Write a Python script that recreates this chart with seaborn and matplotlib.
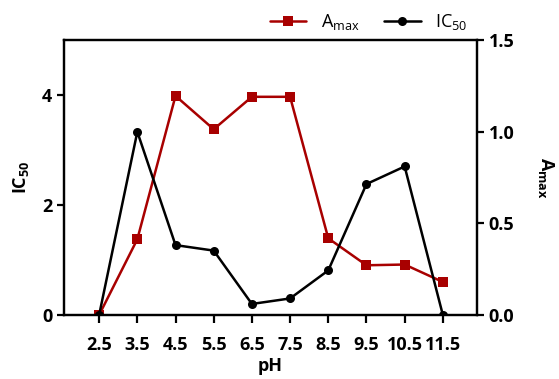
import seaborn as sns
import matplotlib.pyplot as plt

ph = [2.5, 3.5, 4.5, 5.5, 6.5, 7.5, 8.5, 9.5, 10.5, 11.5]
ic50 = [0.0, 3.33, 1.27, 1.17, 0.20, 0.30, 0.81, 2.38, 2.70, 0.0]
amax = [0.0, 0.413, 1.195, 1.013, 1.19, 1.19, 0.418, 0.271, 0.275, 0.18]
ph_labels = ['2.5', '3.5', '4.5', '5.5', '6.5', '7.5', '8.5', '9.5', '10.5', '11.5']

sns.set_style('ticks')
plt.rcParams['font.family'] = ['Open Sans', 'DejaVu Sans']
plt.rcParams['mathtext.fontset'] = 'custom'
plt.rcParams['mathtext.rm'] = 'Open Sans'
plt.rcParams['mathtext.bf'] = 'Open Sans:bold'
plt.rcParams['text.color'] = 'black'
plt.rcParams['axes.labelcolor'] = 'black'

red = '#a80000'
fig = plt.figure(figsize=(5.59, 3.79), dpi=100)
ax = fig.add_axes([0.1145, 0.169, 0.7385, 0.7255])
ax2 = ax.twinx()
ax.set_zorder(ax2.get_zorder() + 1)
ax.patch.set_visible(False)

sns.lineplot(x=ph, y=ic50, ax=ax, color='black', marker='o', markersize=6.5,
             linewidth=1.8, markeredgewidth=0, label=r'IC$_{\mathrm{50}}$', legend=False)
sns.lineplot(x=ph, y=amax, ax=ax2, color=red, marker='s', markersize=6.5,
             linewidth=1.8, markeredgewidth=0, label=r'A$_{\mathrm{max}}$', legend=False)

ax.set_xlim(1.58, 12.39)
ax.set_ylim(0, 5)
ax2.set_ylim(0, 1.5)
ax.set_xticks(ph)
ax.set_xticklabels(ph_labels)
ax.set_yticks([0, 2, 4])
ax2.set_yticks([0, 0.5, 1.0, 1.5])
ax2.set_yticklabels(['0.0', '0.5', '1.0', '1.5'])

for a in (ax, ax2):
    for s in a.spines.values():
        s.set_linewidth(1.6)
        s.set_color('black')
    a.tick_params(width=1.6, length=5, labelsize=13, colors='black')
    for t in a.get_xticklabels() + a.get_yticklabels():
        t.set_fontweight('bold')
ax.tick_params(axis='x', length=6, pad=9)

ax.set_xlabel('pH', fontsize=13, fontweight='bold', labelpad=2)
ax.set_ylabel(r'$\mathbf{IC_{50}}$', fontsize=13, labelpad=8)
ax2.set_ylabel(r'$\mathbf{A_{max}}$', fontsize=13, rotation=-90, labelpad=30)

h1, l1 = ax2.get_legend_handles_labels()
h2, l2 = ax.get_legend_handles_labels()
fig.legend(h1 + h2, l1 + l2, loc='lower right', bbox_to_anchor=(0.865, 0.872),
           ncol=2, frameon=False, fontsize=13, handlelength=2.0, columnspacing=1.4,
           handletextpad=0.8)

fig.savefig('out.png', dpi=100)
